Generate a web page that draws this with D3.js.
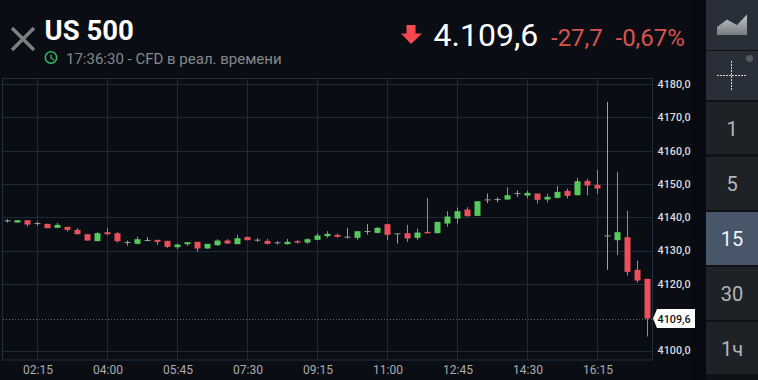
<!DOCTYPE html>
<html><head><meta charset="utf-8">
<script src="https://cdnjs.cloudflare.com/ajax/libs/d3/7.8.5/d3.min.js"></script>
<style>
html,body{margin:0;padding:0;background:#0a0d14;overflow:hidden}
svg{display:block}
text{font-family:Roboto,sans-serif}
</style></head><body><svg id="c" width="758" height="380"></svg>
<script>
const opens=[4138.9,4138.4,4139.1,4138.1,4138.0,4136.8,4137.1,4136.2,4134.9,4132.8,4135.5,4135.2,4132.4,4132.0,4133.0,4133.2,4132.9,4131.0,4131.9,4132.6,4130.6,4131.6,4133.0,4131.9,4134.1,4133.1,4132.9,4132.3,4131.9,4132.8,4132.4,4133.2,4134.3,4134.7,4134.0,4133.8,4135.7,4135.3,4137.9,4135.0,4135.2,4133.8,4135.6,4135.2,4138.1,4139.6,4142.3,4140.4,4145.2,4145.3,4145.3,4147.1,4146.5,4147.1,4145.3,4145.8,4147.9,4146.6,4150.9,4149.7,4134.4,4133.1,4134.0,4124.2,4121.5];
const closes=[4138.9,4139.1,4137.8,4138.1,4136.7,4137.7,4136.2,4134.9,4133.0,4135.2,4134.9,4132.8,4132.4,4133.4,4133.0,4132.6,4131.1,4131.8,4132.5,4130.6,4132.0,4133.0,4132.1,4133.7,4133.1,4133.1,4132.0,4132.3,4132.6,4132.4,4133.4,4134.5,4135.0,4134.1,4134.0,4135.8,4135.7,4136.8,4134.7,4135.0,4133.6,4135.4,4135.2,4138.6,4140.2,4141.8,4140.3,4144.8,4145.2,4145.3,4146.6,4147.1,4147.3,4145.2,4146.1,4147.6,4146.4,4150.8,4149.5,4148.6,4134.4,4135.5,4123.6,4121.0,4109.6];
const highs=[4139.4,4139.1,4139.1,4138.7,4138.0,4138.3,4137.1,4136.7,4134.9,4135.5,4136.8,4135.5,4133.0,4134.2,4134.0,4133.2,4132.9,4132.1,4132.5,4132.6,4132.0,4133.4,4133.4,4134.7,4134.1,4133.7,4133.5,4132.8,4133.5,4133.1,4133.7,4135.2,4135.8,4135.1,4136.8,4135.8,4137.9,4137.1,4138.1,4135.1,4137.7,4136.6,4145.8,4138.6,4141.8,4142.9,4143.0,4144.8,4147.1,4146.0,4149.0,4148.0,4148.0,4147.1,4147.0,4149.4,4148.6,4151.8,4151.5,4154.2,4174.6,4153.6,4141.9,4127.0,4121.5];
const lows=[4138.4,4138.4,4137.2,4137.5,4136.7,4136.8,4135.7,4134.8,4133.0,4132.8,4134.6,4132.4,4131.5,4131.9,4132.8,4131.7,4130.8,4130.4,4131.4,4129.6,4130.6,4131.4,4132.0,4131.9,4133.1,4132.6,4131.8,4131.8,4131.8,4132.1,4132.0,4133.0,4133.8,4133.9,4133.6,4133.2,4134.8,4135.1,4133.2,4132.1,4132.6,4133.2,4135.2,4135.2,4137.1,4138.1,4140.2,4140.4,4144.2,4144.5,4145.3,4146.1,4145.6,4144.1,4144.4,4145.6,4145.6,4146.6,4146.6,4147.0,4124.2,4128.7,4122.5,4120.4,4104.2];
const priceTicks=[4180,4170,4160,4150,4140,4130,4120,4100];
const timeTickIndex=[3,10,17,24,31,38,45,52,59];
const timeTickLabels=["02:15","04:00","05:45","07:30","09:15","11:00","12:45","14:30","16:15"];
const lastPrice=4109.6;
const intervals=["1","5","15","30","1ч"];

const svg=d3.select("#c");
const x=d3.scaleLinear().domain([0,64]).range([7.5,647.5]);
const y=d3.scaleLinear().domain([4100,4180]).range([350.5,83.9]);
const comma=v=>d3.format(".1f")(v).replace(".",",");

// background
svg.append("rect").attr("width",758).attr("height",380).attr("fill","#0a0d14");

// sidebar
svg.append("rect").attr("x",690).attr("width",16).attr("height",380).attr("fill","#070a10");
svg.append("rect").attr("x",706).attr("width",52).attr("height",380).attr("fill","#0e1116");
svg.append("rect").attr("x",706).attr("y",0).attr("width",52).attr("height",50).attr("fill","#282f38");
svg.append("rect").attr("x",706).attr("y",51).attr("width",52).attr("height",49).attr("fill","#282f38");
const defs=svg.append("defs");
const gr=defs.append("linearGradient").attr("id","ar").attr("x1",0).attr("x2",0).attr("y1",0).attr("y2",1);
gr.append("stop").attr("offset",0).attr("stop-color","#c4c6c8");
gr.append("stop").attr("offset",1).attr("stop-color","#777b80");
svg.append("path").attr("d","M717 27L727 19.5L737 25L747 14.5V35H717Z").attr("fill","url(#ar)");
svg.append("path").attr("d","M717 75.5H747M731.5 61V90").attr("stroke","#d8d9da").attr("stroke-dasharray","2,1").attr("fill","none");
svg.append("circle").attr("cx",749.5).attr("cy",58.5).attr("r",3.5).attr("fill","#565a5f");
const btnTop=[102,157,212,267,322], btnH=[52,53,53,53,52];
svg.selectAll("rect.b").data(intervals).join("rect").attr("class","b")
 .attr("x",706).attr("width",52).attr("y",(d,i)=>btnTop[i]).attr("height",(d,i)=>btnH[i])
 .attr("fill",d=>d==="15"?"#48566a":"#1e2227");
svg.selectAll("text.b").data(intervals).join("text").attr("class","b")
 .attr("x",732).attr("y",(d,i)=>btnTop[i]+btnH[i]/2+7.5).attr("text-anchor","middle")
 .attr("font-size",20).attr("fill",d=>d==="15"?"#f2f3f4":"#b4b6b8").text(d=>d);

// plot frame + grid
const grid="#1e2a36";
const gx=svg.append("g");
gx.selectAll("line.h").data(priceTicks).join("line").attr("class","h")
 .attr("x1",3).attr("x2",653).attr("y1",d=>Math.round(y(d))+.5).attr("y2",d=>Math.round(y(d))+.5).attr("stroke",grid);
gx.selectAll("line.v").data(timeTickIndex).join("line").attr("class","v")
 .attr("x1",d=>x(d)).attr("x2",d=>x(d)).attr("y1",78).attr("y2",360).attr("stroke",grid);
svg.append("rect").attr("x",2.5).attr("y",78.5).attr("width",650).attr("height",281.5).attr("fill","none").attr("stroke","#22303e");

// axes
const ay=svg.append("g").attr("transform","translate(652,0)")
 .call(d3.axisRight(y).tickValues(priceTicks).tickFormat(comma).tickSize(0).tickPadding(5.5));
ay.select(".domain").remove();
ay.selectAll("text").attr("fill","#d9dbde").attr("font-size",10.8).attr("font-weight",500).attr("font-family","Roboto");
const ax=svg.append("g").attr("transform","translate(0,361)")
 .call(d3.axisBottom(x).tickValues(timeTickIndex).tickFormat((d,i)=>timeTickLabels[i]).tickSize(0).tickPadding(4));
ax.select(".domain").remove();
ax.selectAll("text").attr("fill","#a9acaf").attr("font-size",12).attr("font-family","Roboto");

// candles
const idx=d3.range(opens.length);
const col=i=>opens[i]===closes[i]?"#9a9a9a":closes[i]>opens[i]?"#55c95b":"#e9505a";
const wickCol=i=>opens[i]===closes[i]?"#a0a0a0":"#8e8e8e";
const cg=svg.append("g");
cg.selectAll("line.w").data(idx).join("line").attr("class","w")
 .attr("x1",i=>x(i)).attr("x2",i=>x(i)).attr("y1",i=>y(highs[i])).attr("y2",i=>y(lows[i])).attr("stroke",wickCol);
cg.selectAll("rect").data(idx).join("rect")
 .attr("x",i=>x(i)-3)
 .attr("width",6)
 .attr("y",i=>opens[i]===closes[i]?y(opens[i])-.5:y(Math.max(opens[i],closes[i])))
 .attr("height",i=>opens[i]===closes[i]?1:Math.max(1.5,Math.abs(y(opens[i])-y(closes[i]))))
 .attr("fill",col);

// last price line and flag
const ly=y(lastPrice);
svg.append("line").attr("x1",3).attr("x2",653).attr("y1",Math.round(ly)+.5).attr("y2",Math.round(ly)+.5)
 .attr("stroke","#5e6368").attr("stroke-dasharray","1,2");
svg.append("path").attr("fill","#fff")
 .attr("d",d3.line()([[653,ly],[657,ly-9.5],[695,ly-9.5],[695,ly+9.5],[657,ly+9.5]])+"Z");
svg.append("text").attr("x",657.5).attr("y",ly+4).attr("fill","#111").attr("font-size",10.8).attr("font-weight",500).text(comma(lastPrice));

// header
svg.append("path").attr("d","M12 28L34 50M34 28L12 50").attr("stroke","#7d8083").attr("stroke-width",3.4).attr("fill","none");
svg.append("text").attr("x",44.5).attr("y",40).attr("fill","#fff").attr("font-size",27.5).attr("font-weight",700).text("US 500");
svg.append("circle").attr("cx",51).attr("cy",57.5).attr("r",5.7).attr("fill","none").attr("stroke","#35b565").attr("stroke-width",1.6);
svg.append("path").attr("d","M51 54.5V58L54 60").attr("fill","none").attr("stroke","#35b565").attr("stroke-width",1.3);
svg.append("text").attr("x",66).attr("y",64).attr("font-size",15).attr("fill","#85888b").text("17:36:30 - CFD в реал. времени");
svg.append("path").attr("d","M406.5 25H415.5V33.5H422L411 44L401 33.5H406.5Z").attr("fill","#f5484f");
svg.append("text").attr("x",433.5).attr("y",46).attr("fill","#fff").attr("font-size",32).text("4.109,6");
svg.append("text").attr("x",551).attr("y",46).attr("fill","#d9534f").attr("font-size",24).text("-27,7");
svg.append("text").attr("x",615.5).attr("y",46).attr("fill","#d9534f").attr("font-size",24).text("-0,67%");
</script></body></html>
